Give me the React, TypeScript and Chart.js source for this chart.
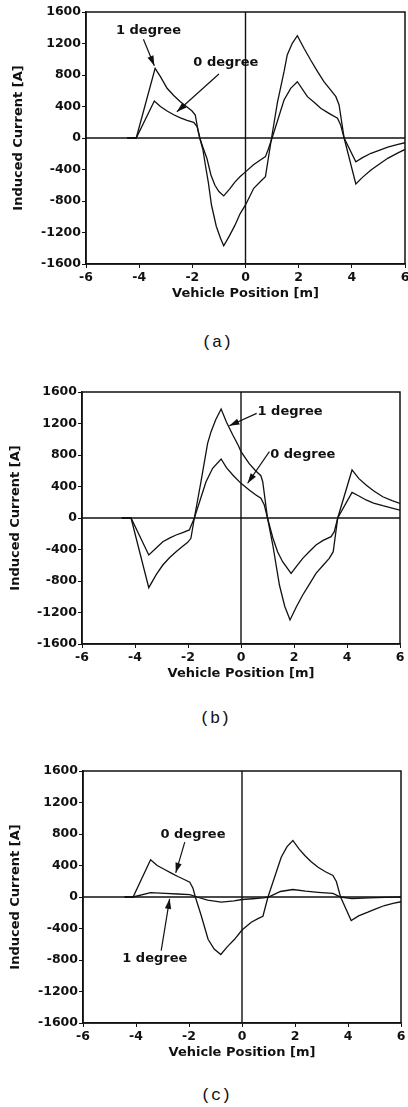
import React, { useEffect, useRef } from 'react';
import { Chart, registerables } from 'chart.js';
Chart.register(...registerables);

// ---------- data ----------
const xTickStep = 2;
const yTickStep = 400;
const xMin = -6, xMax = 6, yMin = -1600, yMax = 1600;
const seriesNames = ['0 degree', '1 degree'];

// Panel (a)
const aX0 = [-4.45, -4.11, -3.43, -3.2, -2.95, -2.7, -2.45, -2.2, -1.95, -1.82, -1.72, -1.6, -1.45, -1.3, -1.15, -1.0, -0.82, -0.6, -0.4, -0.2, 0, 0.3, 0.6, 0.75, 0.85, 1.0, 1.45, 1.7, 1.95, 2.33, 2.58, 2.83, 3.14, 3.46, 3.58, 3.71, 4.15, 4.4, 4.72, 5.0, 5.35, 5.7, 6];
const aY0 = [0, 0, 470, 400, 343, 295, 255, 225, 199, 144, 0, -120, -260, -470, -600, -680, -735, -650, -560, -490, -430, -340, -270, -237, -150, 0, 483, 631, 715, 525, 453, 377, 313, 250, 165, 0, -301, -250, -194, -160, -115, -85, -60];
const aX1 = [-4.45, -4.11, -3.40, -3.2, -2.95, -2.7, -2.45, -2.2, -2.01, -1.89, -1.80, -1.72, -1.6, -1.51, -1.4, -1.28, -1.1, -0.94, -0.82, -0.6, -0.4, -0.2, 0, 0.31, 0.6, 0.75, 0.98, 1.2, 1.45, 1.57, 1.76, 1.95, 2.2, 2.45, 2.7, 2.95, 3.2, 3.40, 3.52, 3.71, 4.15, 4.4, 4.72, 5.0, 5.35, 5.7, 6];
const aY1 = [0, 0, 885, 780, 631, 540, 461, 395, 343, 292, 123, 0, -150, -343, -560, -851, -1120, -1274, -1368, -1240, -1110, -960, -850, -639, -540, -491, 0, 450, 842, 1054, 1202, 1299, 1139, 990, 850, 715, 610, 525, 419, 0, -584, -500, -406, -340, -258, -195, -145];

// Panel (b)
const bX0 = [-4.5, -4.15, -3.48, -3.2, -2.95, -2.7, -2.45, -2.2, -1.95, -1.76, -1.32, -1.07, -0.75, -0.55, -0.31, 0, 0.31, 0.55, 0.75, 0.88, 1.0, 1.2, 1.38, 1.57, 1.89, 2.1, 2.33, 2.6, 2.83, 3.1, 3.40, 3.52, 3.65, 4.19, 4.45, 4.72, 5.0, 5.35, 5.7, 6];
const bY0 = [0, 0, -470, -380, -301, -255, -216, -185, -152, 0, 461, 631, 749, 640, 546, 440, 356, 295, 250, 165, 0, -250, -428, -555, -703, -610, -512, -420, -343, -285, -237, -174, 0, 326, 280, 229, 190, 156, 125, 100];
const bX1 = [-4.5, -4.15, -3.48, -3.2, -2.95, -2.7, -2.45, -2.2, -2.01, -1.89, -1.76, -1.51, -1.26, -1.13, -0.95, -0.75, -0.55, -0.31, -0.1, 0, 0.31, 0.55, 0.75, 0.82, 1.0, 1.2, 1.45, 1.65, 1.85, 2.1, 2.33, 2.6, 2.83, 3.1, 3.33, 3.48, 3.65, 4.19, 4.45, 4.72, 5.0, 5.35, 5.7, 6];
const bY1 = [0, 0, -885, -720, -597, -505, -428, -360, -309, -258, 0, 461, 948, 1096, 1250, 1384, 1220, 1054, 920, 842, 690, 600, 537, 461, 0, -343, -851, -1120, -1295, -1120, -978, -830, -703, -600, -512, -428, 0, 610, 500, 419, 345, 270, 220, 185];

// Panel (c)
const cX0 = [-4.43, -4.11, -3.45, -3.2, -2.92, -2.65, -2.42, -2.2, -1.97, -1.85, -1.76, -1.54, -1.28, -1.05, -0.8, -0.55, -0.28, 0, 0.35, 0.6, 0.79, 0.98, 1.48, 1.7, 1.92, 2.15, 2.37, 2.6, 2.87, 3.15, 3.43, 3.56, 3.72, 4.12, 4.4, 4.75, 5.05, 5.38, 5.7, 6];
const cY0 = [0, 0, 473, 400, 349, 300, 260, 225, 188, 111, 0, -235, -537, -660, -730, -630, -537, -420, -320, -275, -244, 0, 505, 640, 718, 610, 527, 450, 378, 320, 273, 197, 0, -298, -240, -193, -150, -108, -80, -60];
const cX1 = [-4.43, -4.11, -3.45, -2.9, -2.42, -1.97, -1.7, -1.3, -0.78, -0.3, 0, 0.4, 0.8, 1.0, 1.45, 1.92, 2.4, 2.87, 3.43, 3.72, 4.15, 4.8, 5.4, 6];
const cY1 = [0, 0, 55, 45, 38, 30, 0, -40, -65, -48, -32, -22, -12, 0, 70, 95, 75, 60, 45, 0, -20, -12, -5, 0];

// annotation anchors (data units)
const aNotes = [
  { text: '1 degree', x: -3.65, y: 1363, fx: -3.84, fy: 1253, tx: -3.43, ty: 918 },
  { text: '0 degree', x: -0.74, y: 961, fx: -1.0, fy: 813, tx: -2.58, ty: 334 },
];
const bNotes = [
  { text: '1 degree', x: 1.85, y: 1350, fx: 0.59, fy: 1329, tx: -0.44, ty: 1172 },
  { text: '0 degree', x: 2.33, y: 800, fx: 1.07, fy: 842, tx: 0.25, ty: 441 },
];
const cNotes = [
  { text: '0 degree', x: -1.85, y: 794, fx: -2.16, fy: 696, tx: -2.5, ty: 307 },
  { text: '1 degree', x: -3.29, y: -777, fx: -3.05, fy: -680, tx: -2.73, ty: -23 },
];

const xTitle = 'Vehicle Position [m]';
const yTitle = 'Induced Current [A]';

// ---------- layout ----------
const W = 408;
const H = 320;
const FONT = '"DejaVu Sans", sans-serif';
const INK = '#111';

type Note = { text: string; x: number; y: number; fx: number; fy: number; tx: number; ty: number };
type PanelCfg = {
  top: number; left: number; right: number; plotTop: number; bottom: number;
  yTitleX: number; caption: string; capY: number; capX: number;
  x0: number[]; y0: number[]; x1: number[]; y1: number[]; notes: Note[];
};

const panels: PanelCfg[] = [
  { top: 0, left: 86, right: 405, plotTop: 12, bottom: 264, yTitleX: 19, caption: '(a)', capX: 217, capY: 343, x0: aX0, y0: aY0, x1: aX1, y1: aY1, notes: aNotes },
  { top: 380, left: 82, right: 400, plotTop: 12, bottom: 264, yTitleX: 16, caption: '(b)', capX: 215, capY: 719, x0: bX0, y0: bY0, x1: bX1, y1: bY1, notes: bNotes },
  { top: 759, left: 83, right: 401, plotTop: 12, bottom: 264, yTitleX: 16, caption: '(c)', capX: 216, capY: 1096, x0: cX0, y0: cY0, x1: cX1, y1: cY1, notes: cNotes },
];

function drawArrow(ctx: CanvasRenderingContext2D, x1: number, y1: number, x2: number, y2: number) {
  ctx.beginPath();
  ctx.moveTo(x1, y1);
  ctx.lineTo(x2, y2);
  ctx.stroke();
  const ang = Math.atan2(y2 - y1, x2 - x1);
  const len = 10, hw = 3.2;
  const bx = x2 - len * Math.cos(ang), by = y2 - len * Math.sin(ang);
  ctx.beginPath();
  ctx.moveTo(x2, y2);
  ctx.lineTo(bx + hw * Math.sin(ang), by - hw * Math.cos(ang));
  ctx.lineTo(bx - hw * Math.sin(ang), by + hw * Math.cos(ang));
  ctx.closePath();
  ctx.fill();
}

function Panel({ cfg }: { cfg: PanelCfg }) {
  const ref = useRef<HTMLCanvasElement>(null);
  useEffect(() => {
    const toPts = (xs: number[], ys: number[]) => xs.map((x, i) => ({ x, y: ys[i] }));
    const decor = {
      id: 'decor',
      afterDatasetsDraw(chart: any) {
        const { ctx, chartArea: a, scales } = chart;
        const sx = scales.x, sy = scales.y;
        ctx.save();
        ctx.strokeStyle = INK;
        ctx.fillStyle = INK;
        ctx.lineWidth = 1.4;
        const zx = sx.getPixelForValue(0), zy = sy.getPixelForValue(0);
        ctx.beginPath();
        ctx.moveTo(zx, a.top); ctx.lineTo(zx, a.bottom);
        ctx.moveTo(a.left, zy); ctx.lineTo(a.right, zy);
        ctx.stroke();
        ctx.lineWidth = 1.5;
        ctx.strokeRect(a.left, a.top, a.right - a.left, a.bottom - a.top);
        ctx.font = `bold 13px ${FONT}`;
        ctx.textAlign = 'center';
        ctx.textBaseline = 'middle';
        ctx.lineWidth = 1.2;
        for (const n of cfg.notes) {
          ctx.fillText(n.text, sx.getPixelForValue(n.x), sy.getPixelForValue(n.y));
          drawArrow(ctx, sx.getPixelForValue(n.fx), sy.getPixelForValue(n.fy), sx.getPixelForValue(n.tx), sy.getPixelForValue(n.ty));
        }
        ctx.fillText(xTitle, (a.left + a.right) / 2, a.bottom + 30);
        ctx.translate(cfg.yTitleX, (a.top + a.bottom) / 2);
        ctx.rotate(-Math.PI / 2);
        ctx.fillText(yTitle, 0, 0);
        ctx.restore();
      },
    };
    const tickFont = { family: FONT, size: 12.5, weight: 'bold' as const };
    const chart = new Chart(ref.current!, {
      type: 'line',
      data: {
        datasets: [
          { label: seriesNames[0], data: toPts(cfg.x0, cfg.y0), borderColor: INK, borderWidth: 1.3, pointRadius: 0, tension: 0, fill: false },
          { label: seriesNames[1], data: toPts(cfg.x1, cfg.y1), borderColor: INK, borderWidth: 1.3, pointRadius: 0, tension: 0, fill: false },
        ],
      },
      options: {
        responsive: false,
        maintainAspectRatio: false,
        animation: false,
        events: [],
        layout: { padding: { top: cfg.plotTop, right: W - cfg.right, left: 0, bottom: 0 } },
        plugins: { legend: { display: false }, tooltip: { enabled: false } },
        scales: {
          x: {
            type: 'linear', min: xMin, max: xMax,
            ticks: { stepSize: xTickStep, autoSkip: false, font: tickFont, color: INK, padding: 2, maxRotation: 0, callback: (v: any) => String(v) },
            grid: { drawOnChartArea: false, drawTicks: true, tickLength: 4, color: INK, lineWidth: 1 },
            border: { display: true, color: INK, width: 1.5 },
            afterFit: (s: any) => { s.height = H - cfg.bottom; s.paddingLeft = 0; s.paddingRight = 0; },
          },
          y: {
            type: 'linear', min: yMin, max: yMax,
            ticks: { stepSize: yTickStep, autoSkip: false, font: tickFont, color: INK, padding: 1, callback: (v: any) => String(v) },
            grid: { drawOnChartArea: false, drawTicks: true, tickLength: 4, color: INK, lineWidth: 1 },
            border: { display: true, color: INK, width: 1.5 },
            afterFit: (s: any) => { s.width = cfg.left; s.paddingTop = 0; s.paddingBottom = 0; },
          },
        },
      },
      plugins: [decor],
    });
    return () => chart.destroy();
  }, [cfg]);
  return (
    <canvas ref={ref} width={W} height={H}
      style={{ position: 'absolute', left: 0, top: cfg.top, width: W, height: H }} />
  );
}

export default function App() {
  return (
    <div style={{ position: 'absolute', left: 0, top: 0, width: W, height: 1107, background: '#fff', overflow: 'hidden' }}>
      {panels.map((p) => (
        <React.Fragment key={p.caption}>
          <Panel cfg={p} />
          <div style={{
            position: 'absolute', left: p.capX - 40, top: p.capY - 11, width: 80, height: 22,
            lineHeight: '22px', textAlign: 'center', fontFamily: '"Liberation Mono", "DejaVu Sans Mono", monospace',
            fontSize: 17, color: INK,
          }}>{p.caption}</div>
        </React.Fragment>
      ))}
    </div>
  );
}
